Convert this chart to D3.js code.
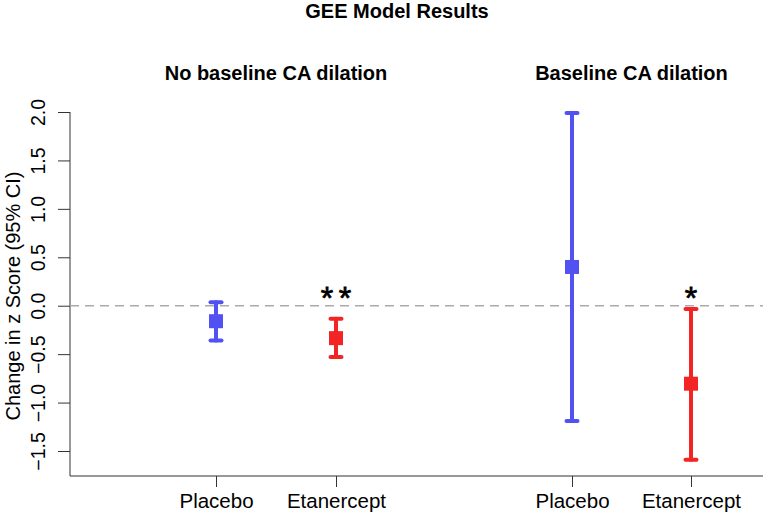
<!DOCTYPE html>
<html><head><meta charset="utf-8">
<script src="https://cdn.jsdelivr.net/npm/d3@7"></script>
<style>body{margin:0;background:#fff}svg{display:block}text{font-family:"Liberation Sans",Arial,sans-serif}</style>
</head><body>
<svg id="c" width="763" height="514"></svg>
<script>
const positions = ["Placebo1","Etanercept1","Placebo2","Etanercept2"];
const tickLabels = ["Placebo","Etanercept","Placebo","Etanercept"];
const estimates = [-0.16, -0.335, 0.40, -0.805];
const lowerCI = [-0.36, -0.53, -1.19, -1.59];
const upperCI = [0.035, -0.135, 1.99, -0.035];
const colors = ["#5252f2","#f22424","#5252f2","#f22424"];
const stars = ["", "**", "", "*"];
const groupTitles = ["No baseline CA dilation","Baseline CA dilation"];
const yTicks = [-1.5,-1.0,-0.5,0.0,0.5,1.0,1.5,2.0];

const svg = d3.select("#c");
const y = d3.scaleLinear().domain([-1.5, 2.0]).range([451, 112]);
const xPos = [216, 336, 572, 691];
const x = d3.scaleOrdinal().domain(positions).range(xPos);

// title
svg.append("text").attr("x",397).attr("y",18).attr("text-anchor","middle")
  .attr("font-size",20).attr("font-weight","bold").text("GEE Model Results");
// group titles
[[0,1],[2,3]].forEach((g,i)=>{
  svg.append("text").attr("x",(x(positions[g[0]])+x(positions[g[1]]))/2).attr("y",80)
    .attr("text-anchor","middle").attr("font-size",20).attr("font-weight","bold").text(groupTitles[i]);
});

// y axis
const fmt = d => d3.format(".1f")(d).replace("-","\u2212");
const yAxis = d3.axisLeft(y).tickValues(yTicks).tickFormat(fmt).tickSize(12).tickSizeOuter(0);
const ga = svg.append("g").attr("transform","translate(70,0)").call(yAxis);
ga.select(".domain").remove();
ga.selectAll("line").attr("stroke","#333");
ga.selectAll("text").attr("font-size",19.5).attr("fill","#000")
  .attr("transform","rotate(-90)").attr("x",0).attr("y",-25).attr("dy",0)
  .attr("text-anchor","middle");
svg.append("line").attr("x1",70).attr("x2",70).attr("y1",y(2.0)).attr("y2",476).attr("stroke","#333");
// x axis
svg.append("line").attr("x1",70).attr("x2",763).attr("y1",476).attr("y2",476).attr("stroke","#333");
const xAxis = d3.axisBottom(x).tickSize(11).tickFormat((d,i)=>tickLabels[i]);
const gx = svg.append("g").attr("transform","translate(0,476)").call(xAxis);
gx.select(".domain").remove();
gx.selectAll("line").attr("stroke","#333");
gx.selectAll("text").attr("font-size",20.5).attr("fill","#000").attr("y",32).attr("dy",0);

// y title
svg.append("text").attr("transform",`translate(20,${y(0.1)}) rotate(-90)`).attr("text-anchor","middle")
  .attr("font-size",20).text("Change in z Score (95% CI)");

// zero line
svg.append("line").attr("x1",70).attr("x2",763).attr("y1",y(0)).attr("y2",y(0))
  .attr("stroke","#aaa").attr("stroke-width",1.5).attr("stroke-dasharray","9,6");

// error bars
positions.forEach((p,i)=>{
  const cx = x(p), c = colors[i];
  const g = svg.append("g").attr("stroke",c).attr("stroke-width",4).attr("stroke-linecap","round");
  g.append("line").attr("x1",cx).attr("x2",cx).attr("y1",y(lowerCI[i])).attr("y2",y(upperCI[i]));
  g.append("line").attr("x1",cx-5.5).attr("x2",cx+5.5).attr("y1",y(lowerCI[i])).attr("y2",y(lowerCI[i]));
  g.append("line").attr("x1",cx-5.5).attr("x2",cx+5.5).attr("y1",y(upperCI[i])).attr("y2",y(upperCI[i]));
  svg.append("rect").attr("x",cx-7).attr("y",y(estimates[i])-7).attr("width",14).attr("height",14).attr("fill",c);
  const ch = stars[i].split("");
  ch.forEach((s,j)=>{
    svg.append("text").attr("x",cx + (j-(ch.length-1)/2)*18).attr("y",y(0)+3).attr("text-anchor","middle")
      .attr("font-size",32).attr("stroke","#000").attr("stroke-width",0.8).text(s);
  });
});
</script>
</body></html>
